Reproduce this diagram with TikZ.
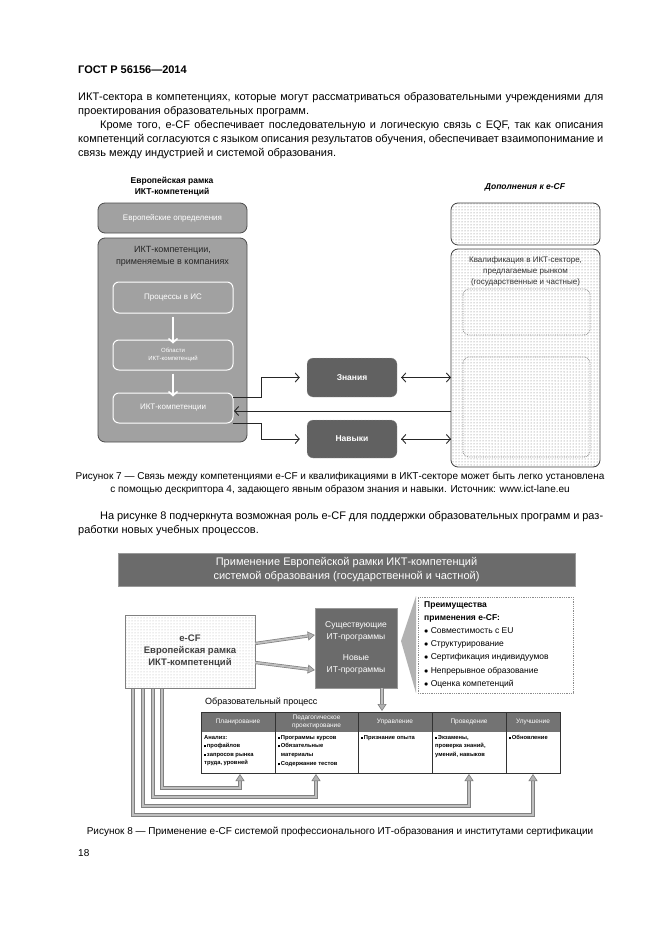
\documentclass[tikz,border=0pt]{standalone}
\usepackage{fontspec}
\setmainfont{Liberation Sans}
\usetikzlibrary{arrows.meta,patterns}
\newcommand\myfs[2]{\fontsize{#1}{#2}\selectfont}
\newcommand\sq{\rule[0.4pt]{1.8pt}{1.8pt}\,}
\begin{document}
\begin{tikzpicture}[x=1pt,y=-1pt,
  txt/.style={inner sep=0pt,anchor=base west},
  lgray/.style={draw=black!70,fill=black!37,rounded corners=7pt,line width=0.8pt},
  inbox/.style={draw=white,line width=1pt,rounded corners=6pt,fill=black!37,text=white,align=center},
  darkbox/.style={draw=black!25,densely dotted,fill=black!62,rounded corners=6pt,text=white,align=center,font=\bfseries\myfs{8.5}{10}},
  stip/.style={draw=black!75,line width=0.8pt,rounded corners=7pt,fill=black!18,pattern=dots,pattern color=black!55},
  conn/.style={draw=black!85,line width=0.9pt},
  tip/.style={-{Straight Barb[length=4pt,width=9pt,line width=0.9pt]}},
  pipe/.style={draw=black!50,line width=0.7pt,double=black!25,double distance=1.8pt},
  ptip/.style={-{Triangle[length=7pt,width=9pt,fill=black!30,color=black!50,line width=0.6pt]}},
]
\useasboundingbox[fill=white] (0,0) rectangle (661,936);

% ---------- page text ----------
\node[txt] (hdr) at (78,74) {\bfseries\myfs{11}{14}ГОСТ Р 56156—2014};
\node[txt] (l1) at (78,101) {\myfs{11}{14}\makebox[525pt][s]{ИКТ-сектора в компетенциях, которые могут рассматриваться образовательными учреждениями для}};
\node[txt] (l2) at (78,115) {\myfs{11}{14}проектирования образовательных программ.};
\node[txt] (l3) at (100,129) {\myfs{11}{14}\makebox[503pt][s]{Кроме того, e-CF обеспечивает последовательную и логическую связь с EQF, так как описания}};
\node[txt] (l4) at (78,143) {\myfs{11}{14}\makebox[525pt][s]{компетенций согласуются с языком описания результатов обучения, обеспечивает взаимопонимание и}};
\node[txt] (l5) at (78,157) {\myfs{11}{14}связь между индустрией и системой образования.};

% ---------- figure 7 ----------
\node[align=center,inner sep=0,font=\bfseries\myfs{8.5}{11}] (efh) at (172,187) {Европейская рамка\\ИКТ-компетенций};
\node[lgray,minimum width=149pt,minimum height=30pt,text=white,font=\myfs{8}{10}] (eurdef) at (172.5,218) {Европейские определения};
\draw[lgray] (98,238) rectangle (247,442);
\node[align=center,inner sep=0,font=\myfs{9}{12},text=black!85] (ictc) at (172.5,256) {ИКТ-компетенции,\\применяемые в компаниях};
\node[inbox,minimum width=120pt,minimum height=31pt,font=\myfs{8}{10}] (proc) at (173,297.5) {Процессы в ИС};
\node[inbox,minimum width=120pt,minimum height=30pt,font=\myfs{6}{8}] (area) at (173,355) {Области\\ИКТ-компетенций};
\node[inbox,minimum width=120pt,minimum height=30pt,font=\myfs{8}{10}] (comp) at (173,408) {ИКТ-компетенции};
\draw[white,line width=1.5pt,-{Straight Barb[length=4pt,width=9pt,line width=1.5pt]}] (proc.south) ++(0,3) -- ([yshift=-4pt]area.north);
\draw[white,line width=1.5pt,-{Straight Barb[length=4pt,width=9pt,line width=1.5pt]}] (area.south) ++(0,3) -- ([yshift=-4pt]comp.north);

\node[darkbox,minimum width=90pt,minimum height=39pt] (know) at (352,377.5) {Знания};
\node[darkbox,minimum width=90pt,minimum height=38pt] (skill) at (352,439) {Навыки};

\node[inner sep=0,font=\bfseries\itshape\myfs{8.5}{10}] (addh) at (525,187) {Дополнения к e-CF};
\draw[stip] (451,203) rectangle (600,245);
\draw[stip] (451,249) rectangle (600,467);
\node[align=center,inner sep=0,font=\myfs{8}{11},text=black!80] (qual) at (525.5,271) {Квалификация в ИКТ-секторе,\\предлагаемые рынком\\(государственные и частные)};
\draw[black!45,line width=0.8pt,densely dotted,rounded corners=6pt] (463,289) rectangle (590,335);
\draw[black!45,line width=0.8pt,densely dotted,rounded corners=6pt] (463,357) rectangle (590,457);
\coordinate (rb) at (451,0);

\draw[conn,tip] (233,397) -- (261,397) |- ([xshift=-7pt]know.west);
\draw[conn,tip] (233,423) -- (261,423) |- ([xshift=-7pt]skill.west);
\draw[conn,tip] (rb |- 0,411) -- (234,411);
\draw[conn,tip] ([xshift=4pt]know.east) -- (rb |- know.east);
\draw[conn,tip] (rb |- know.east) -- ([xshift=4pt]know.east);
\draw[conn,tip] ([xshift=4pt]skill.east) -- (rb |- skill.east);
\draw[conn,tip] (rb |- skill.east) -- ([xshift=4pt]skill.east);

\node[align=center,inner sep=0,font=\myfs{10}{13}] (cap7) at (340,483) {Рисунок 7 — Связь между компетенциями e-CF и квалификациями в ИКТ-секторе может быть легко установлена\\с помощью дескриптора 4, задающего явным образом знания и навыки. Источник: www.ict-lane.eu};

\node[txt] (p1) at (100,519) {\myfs{11}{14}\makebox[503pt][s]{На рисунке 8 подчеркнута возможная роль e-CF для поддержки образовательных программ и раз-}};
\node[txt] (p2) at (78,533) {\myfs{11}{14}работки новых учебных процессов.};

% ---------- figure 8 ----------
\node[fill=black!58,draw=black!40,minimum width=457pt,minimum height=33pt,text=white,align=center,font=\myfs{11}{14}] (bar) at (346.5,569.5) {Применение Европейской рамки ИКТ-компетенций\\системой образования (государственной и частной)};

\node[draw=black!50,fill=black!5,pattern=dots,pattern color=black!30,minimum width=130pt,minimum height=73pt] (ecfbox) at (190,651.5) {};
\node[align=center,font=\bfseries\myfs{9.5}{12},text=black!75] (ecf) at (ecfbox.center) {e-CF\\Европейская рамка\\ИКТ-компетенций};

\node[fill=black!58,draw=black!40,minimum width=82pt,minimum height=80pt,text=white,align=center,font=\myfs{8.5}{12}] (prog) at (356,648) {Существующие\\ИТ-программы\\[9pt]Новые\\ИТ-программы};

\fill[black!30] (416,596) -- (401,641) -- (416,693) -- cycle;
\node[draw=black!45,densely dotted,line width=0.8pt,fill=white,minimum width=155pt,minimum height=96pt] (adv) at (495.5,645) {};
\node[anchor=north west,align=left,inner sep=0,font=\myfs{8.5}{13.2}] (advt) at (424,601) {\textbf{Преимущества}\\\textbf{применения e-CF:}\\$\bullet$ Совместимость с EU\\$\bullet$ Структурирование\\$\bullet$ Сертификация индивидуумов\\$\bullet$ Непрерывное образование\\$\bullet$ Оценка компетенций};

\draw[pipe,ptip] ([yshift=8pt]ecfbox.east) -- ([yshift=13pt]prog.west);
\draw[pipe,ptip] ([yshift=-11pt]ecfbox.east) -- ([yshift=-22pt]prog.west);

\node[txt] (edu) at (205,704) {\myfs{9}{11}Образовательный процесс};

% table
\fill[black!55] (201,712) rectangle (560,732);
\draw[black!80,line width=0.7pt] (201,712) rectangle (560,773);
\foreach \x in {275,358,432,506} \draw[black!80,line width=0.7pt] (\x,712) -- (\x,773);
\node[text=white,font=\myfs{6.5}{8}] (h1) at (238,722) {Планирование};
\node[text=white,font=\myfs{6.5}{8},align=center] (h2) at (316.5,722) {Педагогическое\\проектирование};
\node[text=white,font=\myfs{6.5}{8}] (h3) at (395,722) {Управление};
\node[text=white,font=\myfs{6.5}{8}] (h4) at (469,722) {Проведение};
\node[text=white,font=\myfs{6.5}{8}] (h5) at (533,722) {Улучшение};
\node[anchor=north west,align=left,inner sep=0,font=\bfseries\myfs{5.8}{8.5}] (b1) at (204,735) {Анализ:\\\sq профайлов\\\sq запросов рынка\\труда, уровней};
\node[anchor=north west,align=left,inner sep=0,font=\bfseries\myfs{5.8}{8.5}] (b2) at (278,735) {\sq Программы курсов\\\sq Обязательные\\\phantom{\sq}материалы\\[1pt]\sq Содержание тестов};
\node[anchor=north west,align=left,inner sep=0,font=\bfseries\myfs{5.8}{8.5}] (b3) at (361,735) {\sq Признание опыта};
\node[anchor=north west,align=left,inner sep=0,font=\bfseries\myfs{5.8}{8.5}] (b4) at (435,735) {\sq Экзамены,\\проверка знаний,\\умений, навыков};
\node[anchor=north west,align=left,inner sep=0,font=\bfseries\myfs{5.8}{8.5}] (b5) at (509,735) {\sq Обновление};

\draw[pipe,ptip] (prog.south -| 382,0) -- (382,711);
\draw[pipe,ptip] (162,689) |- (240,788) -- (240,774);
\draw[pipe,ptip] (153,689) |- (316,797) -- (316,774);
\draw[pipe,ptip] (143,689) |- (469,806) -- (469,774);
\draw[pipe,ptip] (133,689) |- (533,815) -- (533,774);

\node[align=center,inner sep=0,font=\myfs{10}{13}] (cap8) at (340,832) {Рисунок 8 — Применение e-CF системой профессионального ИТ-образования и институтами сертификации};
\node[txt] (pg) at (78,856) {\myfs{10}{12}18};
\end{tikzpicture}
\end{document}
